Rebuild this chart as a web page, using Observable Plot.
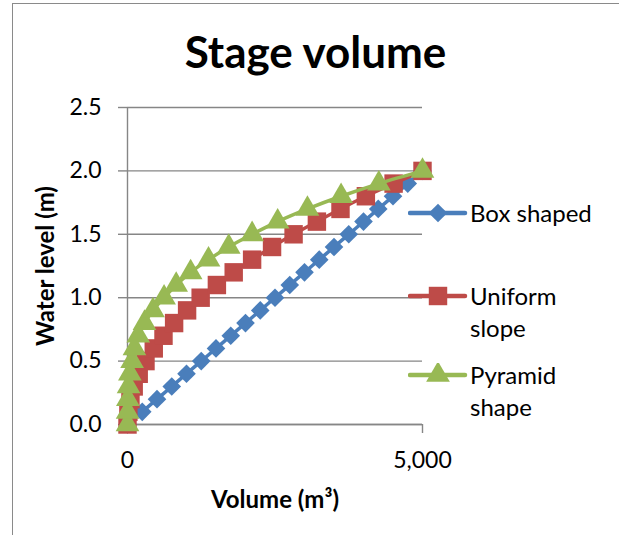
<!DOCTYPE html>
<html>
<head>
<meta charset="utf-8">
<script src="https://cdn.jsdelivr.net/npm/d3@7"></script>
<script src="https://cdn.jsdelivr.net/npm/@observablehq/plot@0.6"></script>
<style>
  html, body { margin: 0; padding: 0; background: #fff; }
  #wrap { position: relative; width: 619px; height: 535px; overflow: hidden; font-family: Lato, "Open Sans", sans-serif; }
  #frame { position: absolute; left: 12px; top: 3px; width: 700px; height: 700px; border-left: 1.5px solid #8a8a8a; border-top: 1.5px solid #8a8a8a; box-sizing: border-box; }
  #title { position: absolute; left: 12px; width: 607px; top: 23px; text-align: center; font-weight: bold; font-size: 44px; line-height: 56px; color: #000; }
  #chart { position: absolute; left: 0; top: 0; }
  #chart svg { overflow: visible; }
  g[aria-label="x-axis label"] text, g[aria-label="y-axis label"] text { font-weight: bold; font-size: 24px; }
  .leg { position: absolute; left: 408px; font-size: 24px; line-height: 32px; color: #000; }
  .leg svg { position: absolute; left: 0; top: 4px; }
  .leg span { position: absolute; left: 62px; top: 0; white-space: nowrap; }
</style>
</head>
<body>
<div id="wrap">
  <div id="frame"></div>
  <div id="title">Stage volume</div>
  <div id="chart"></div>
  <div id="legend"></div>
</div>
<script>
const seriesNames = ["Box shaped", "Uniform slope", "Pyramid shape"];
const seriesColors = ["#4A7EBB", "#BE4B48", "#98B954"];
const seriesSymbols = ["diamond2", "square", "triangle"];
const levels = [0, 0.1, 0.2, 0.3, 0.4, 0.5, 0.6, 0.7, 0.8, 0.9, 1.0, 1.1, 1.2, 1.3, 1.4, 1.5, 1.6, 1.7, 1.8, 1.9, 2.0];
const volumeBox = [0, 250, 500, 750, 1000, 1250, 1500, 1750, 2000, 2250, 2500, 2750, 3000, 3250, 3500, 3750, 4000, 4250, 4500, 4750, 5000];
const volumeUniform = [0, 15, 50, 105, 190, 305, 445, 610, 790, 1010, 1240, 1515, 1800, 2112, 2450, 2815, 3210, 3610, 4040, 4510, 5000];
const volumePyramid = [0, 2, 6, 18, 40, 78, 118, 182, 288, 432, 620, 825, 1070, 1373, 1716, 2112, 2545, 3050, 3620, 4260, 5000];
const xTicks = [0, 5000];
const yTicks = [0, 0.5, 1.0, 1.5, 2.0, 2.5];

const volumes = [volumeBox, volumeUniform, volumePyramid];
const data = seriesNames.map((name, s) => levels.map((h, i) => ({series: name, volume: volumes[s][i], level: h})));

const marks = [
  Plot.gridY(yTicks, {stroke: "#868686", strokeOpacity: 1, strokeWidth: 1.4}),
  Plot.ruleX([0], {stroke: "#868686", strokeWidth: 1.4}),
  Plot.ruleY([0], {stroke: "#868686", strokeWidth: 1.4}),
  Plot.axisY(yTicks, {tickSize: 9, tickPadding: 17, stroke: "#868686", strokeWidth: 1.4, fill: "#000", tickFormat: d3.format(".1f"),
    label: "Water level (m)", labelAnchor: "center", labelOffset: 91, labelArrow: "none"}),
  Plot.axisX(xTicks, {tickSize: 9, tickPadding: 18, stroke: "#868686", strokeWidth: 1.4, fill: "#000", tickFormat: d3.format(","),
    label: "Volume (m³)", labelAnchor: "center", labelOffset: 83, labelArrow: "none"})
];
const radii = [8.4, 10.4, 8.8];
data.forEach((rows, s) => {
  marks.push(Plot.line(rows, {x: "volume", y: "level", stroke: seriesColors[s], strokeWidth: 3.5, curve: "catmull-rom"}));
  marks.push(Plot.dot(rows, {x: "volume", y: "level", symbol: seriesSymbols[s], fill: seriesColors[s], stroke: "none", r: radii[s]}));
});

const chart = Plot.plot({
  width: 619, height: 535,
  marginLeft: 127, marginRight: 197, marginTop: 107, marginBottom: 111,
  style: {fontFamily: "Lato, 'Open Sans', sans-serif", fontSize: "23px", color: "#000", background: "transparent", overflow: "visible"},
  x: {domain: [0, 5000], label: null},
  y: {domain: [0, 2.5], label: null},
  marks
});
document.getElementById("chart").appendChild(chart);

// legend
const legendTops = [197, 280, 359];
const legendLabels = [["Box shaped"], ["Uniform", "slope"], ["Pyramid", "shape"]];
const symbolMap = {diamond2: d3.symbolDiamond2, square: d3.symbolSquare, triangle: d3.symbolTriangle};
const legend = document.getElementById("legend");
seriesNames.forEach((name, s) => {
  const item = document.createElement("div");
  item.className = "leg";
  item.style.top = legendTops[s] + "px";
  const size = Math.PI * radii[s] * radii[s];
  const path = d3.symbol(symbolMap[seriesSymbols[s]], size)();
  item.innerHTML = `<svg width="60" height="24"><line x1="2" y1="12" x2="57" y2="12" stroke="${seriesColors[s]}" stroke-width="4.5" stroke-linecap="round"/><path transform="translate(30,12)" d="${path}" fill="${seriesColors[s]}"/></svg><span>${legendLabels[s].join("<br>")}</span>`;
  legend.appendChild(item);
});
</script>
</body>
</html>
